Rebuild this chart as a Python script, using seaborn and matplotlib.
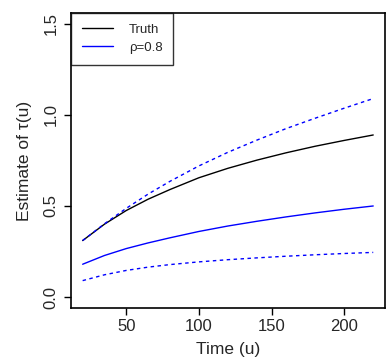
import matplotlib
matplotlib.use("Agg")
import matplotlib.pyplot as plt
import seaborn as sns
import pandas as pd

u = [20, 35, 50, 65, 80, 100, 120, 140, 160, 180, 200, 220]
truth = [0.31, 0.40, 0.475, 0.537, 0.59, 0.655, 0.707, 0.752, 0.792, 0.828, 0.86, 0.89]
est = [0.18, 0.228, 0.266, 0.297, 0.325, 0.36, 0.39, 0.416, 0.44, 0.462, 0.482, 0.50]
upper = [0.31, 0.402, 0.487, 0.565, 0.635, 0.72, 0.795, 0.862, 0.925, 0.982, 1.037, 1.09]
lower = [0.09, 0.122, 0.146, 0.164, 0.178, 0.193, 0.205, 0.215, 0.224, 0.232, 0.239, 0.245]

xticks = [50, 100, 150, 200]
yticks = [0.0, 0.5, 1.0, 1.5]
ytick_labels = ["0.0", "0.5", "1.0", "1.5"]

sns.set_theme(style="white")
plt.rcParams['font.family'] = ['Liberation Sans', 'DejaVu Sans']

df = pd.DataFrame({"u": u, "truth": truth, "est": est, "upper": upper, "lower": lower})

fig = plt.figure(figsize=(3.86, 3.61), dpi=100)
ax = fig.add_axes([0.184, 0.147, 0.813, 0.817])

sns.lineplot(data=df, x="u", y="truth", ax=ax, color="black", lw=1.0, label="Truth")
sns.lineplot(data=df, x="u", y="est", ax=ax, color="#0000ff", lw=1.0, label="\u03c1=0.8")
sns.lineplot(data=df, x="u", y="upper", ax=ax, color="#0000ff", lw=1.0, linestyle=(0, (2.5, 2.5)))
sns.lineplot(data=df, x="u", y="lower", ax=ax, color="#0000ff", lw=1.0, linestyle=(0, (2.5, 2.5)))

ax.set_xlim(12, 228)
ax.set_ylim(-0.06, 1.56)
ax.set_xticks(xticks)
ax.set_yticks(yticks)
ax.set_yticklabels(ytick_labels, rotation=90, va="center")
ax.tick_params(axis="both", which="both", direction="out", length=5, width=1, color="black",
               labelsize=12, left=True, bottom=True)
ax.tick_params(axis="y", pad=4)
ax.tick_params(axis="x", pad=3)
ax.set_xlabel("Time (u)", fontsize=12.5, labelpad=6)
ax.set_ylabel("Estimate of \u03c4(u)", fontsize=12.5, labelpad=8)
for s in ax.spines.values():
    s.set_color("black")
    s.set_linewidth(1.2)

leg = ax.legend(loc="upper left", borderaxespad=0, fontsize=9.5, frameon=True, fancybox=False,
                handlelength=2.4, borderpad=0.8, labelspacing=0.45, handletextpad=1.2)
leg.get_frame().set_edgecolor("black")
leg.get_frame().set_linewidth(1.0)

fig.savefig("out.png", dpi=100)
